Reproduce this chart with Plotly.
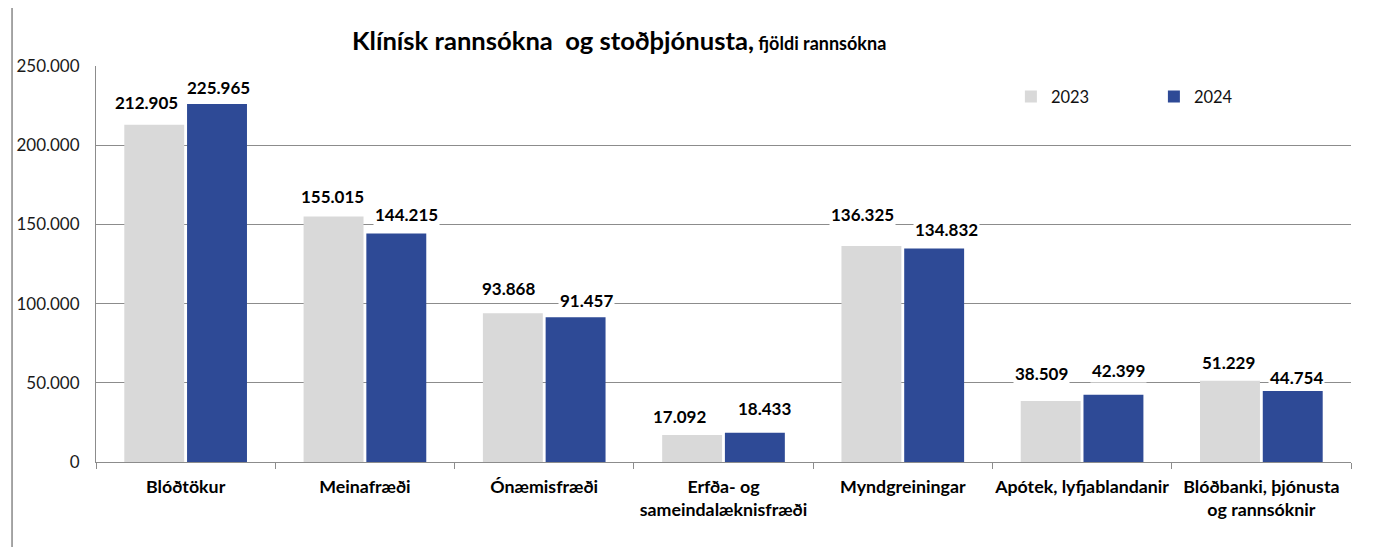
import plotly.graph_objects as go

categories = ["Blóðtökur", "Meinafræði", "Ónæmisfræði", "Erfða- og<br>sameindalæknisfræði",
              "Myndgreiningar", "Apótek, lyfjablandanir", "Blóðbanki, þjónusta<br>og rannsóknir"]
values_2023 = [212905, 155015, 93868, 17092, 136325, 38509, 51229]
values_2024 = [225965, 144215, 91457, 18433, 134832, 42399, 44754]
series_names = ["2023", "2024"]
colors = ["#D9D9D9", "#2E4A96"]
y_ticks = [0, 50000, 100000, 150000, 200000, 250000]

# label placement tweaks (pixels) as in the original chart
label_dx = [[-8, -1, -4, -13, -8.5, -9, -1], [1, 10, 11, 10, 12, 5, 4]]
label_dy = [[23, 20.5, 26, 19.5, 32.5, 28.5, 19.5], [18, 19.6, 18, 25, 19.5, 25, 14.6]]

FONT = "Lato"
GRID = "#8C8C8C"

fig = go.Figure()
for name, vals, col in zip(series_names, [values_2023, values_2024], colors):
    fig.add_trace(go.Bar(x=categories, y=vals, name=name, marker_color=col,
                         marker_line_width=0, hoverinfo="skip"))

def fmt(v):
    return f"{v:,}".replace(",", ".")

annotations = []
for si, vals in enumerate([values_2023, values_2024]):
    shift = -31.4 if si == 0 else 31.4
    for i, (c, v) in enumerate(zip(categories, vals)):
        annotations.append(dict(x=c, y=v, xref="x", yref="y", text="<b>" + fmt(v) + "</b>",
                                showarrow=False, xshift=shift + label_dx[si][i],
                                yshift=label_dy[si][i] - 1, yanchor="middle",
                                bgcolor="white", borderpad=1,
                                font=dict(family=FONT, size=17, color="#000000")))

annotations.append(dict(
    xref="paper", yref="paper", x=0.2024, y=1.066, xanchor="left", yanchor="middle",
    showarrow=False,
    text="<b>Klínísk rannsókna&nbsp; og stoðþjónusta,</b><span style='font-size:18px'><b> fjöldi rannsókna</b></span>",
    font=dict(family=FONT, size=25.6, color="#000000")))

fig.update_layout(
    width=1373, height=547,
    margin=dict(l=88, r=30, t=58, b=93, autoexpand=False),
    paper_bgcolor="white", plot_bgcolor="white",
    barmode="group", bargap=0.30, bargroupgap=0.045,
    separators=",.",
    font=dict(family=FONT, size=17, color="#1a1a1a"),
    showlegend=True,
    legend=dict(orientation="h", x=0.729, y=0.922, xanchor="left", yanchor="middle",
                entrywidth=98, entrywidthmode="pixels", bgcolor="rgba(0,0,0,0)",
                font=dict(family=FONT, size=16.5, color="#111111"), itemclick=False),
    annotations=annotations,
    shapes=[
        dict(type="line", xref="paper", yref="paper", x0=-0.0669, x1=-0.0669, y0=1.1566, y1=-0.25,
             line=dict(color="#888888", width=1.5)),
        dict(type="line", xref="paper", yref="paper", x0=-0.0669, x1=1.03, y0=1.1566, y1=1.1566,
             line=dict(color="#888888", width=1.5)),
    ],
)
fig.update_xaxes(showline=True, linecolor=GRID, linewidth=1, ticks="outside", tickson="boundaries",
                 ticklen=6, tickcolor=GRID, showgrid=False, automargin=False, tickangle=0,
                 tickvals=categories, ticktext=["<b>" + c + "</b>" for c in categories],
                 tickfont=dict(family=FONT, size=17.8, color="#000000"),
                 ticklabelstandoff=9)
fig.update_yaxes(range=[0, 250000], tickvals=y_ticks, tickformat=",d", showline=True,
                 linecolor=GRID, linewidth=1, showgrid=True, gridcolor=GRID, gridwidth=1,
                 ticks="", zeroline=False, ticklabelstandoff=12, automargin=False,
                 tickfont=dict(family=FONT, size=17, color="#1a1a1a"))

fig.write_html("out.html")
